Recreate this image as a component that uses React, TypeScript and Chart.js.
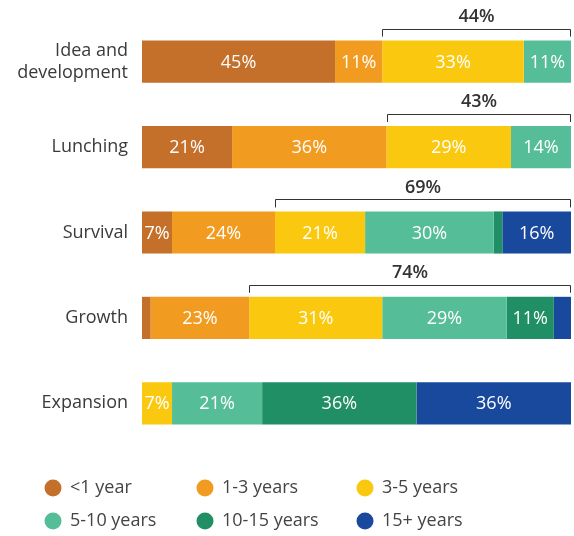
import React, { useEffect, useRef } from "react";
import { Chart, registerables } from "chart.js";

Chart.register(...registerables);

const categories: (string | string[])[] = [
  ["Idea and", "development"],
  "Lunching",
  "Survival",
  "Growth",
  "Expansion",
];
const seriesLabels = ["<1 year", "1-3 years", "3-5 years", "5-10 years", "10-15 years", "15+ years"];
const seriesColors = ["#C46F2A", "#F29B21", "#FAC90F", "#55BE98", "#208F66", "#19499C"];

const lessThan1 = [45, 21, 7, 2, 0];
const y1to3 = [11, 36, 24, 23, 0];
const y3to5 = [33, 29, 21, 31, 7];
const y5to10 = [11, 14, 30, 29, 21];
const y10to15 = [0, 0, 2, 11, 36];
const y15plus = [0, 0, 16, 4, 36];

const bracketLabels = ["44%", "43%", "69%", "74%", ""];
const bracketStartSeries = [2, 2, 2, 2, -1];

const FONT = "'Open Sans', sans-serif";

export default function App() {
  const ref = useRef<HTMLCanvasElement | null>(null);

  useEffect(() => {
    if (!ref.current) return;
    const series = [lessThan1, y1to3, y3to5, y5to10, y10to15, y15plus];

    const labelsPlugin = {
      id: "segLabels",
      afterDatasetsDraw(chart: any) {
        const ctx = chart.ctx;
        ctx.save();
        ctx.font = `18px ${FONT}`;
        ctx.fillStyle = "#ffffff";
        ctx.textAlign = "center";
        ctx.textBaseline = "middle";
        chart.data.datasets.forEach((ds: any, di: number) => {
          const meta = chart.getDatasetMeta(di);
          meta.data.forEach((bar: any, i: number) => {
            const v = ds.data[i];
            if (v >= 5) {
              const cx = (bar.x + bar.base) / 2;
              ctx.fillText(v + "%", cx, bar.y + 1);
            }
          });
        });
        // brackets
        const xs = chart.scales.x;
        ctx.strokeStyle = "#333333";
        ctx.lineWidth = 1;
        ctx.fillStyle = "#333333";
        ctx.font = `600 18px ${FONT}`;
        bracketStartSeries.forEach((s, i) => {
          if (s < 0) return;
          let startVal = 0;
          for (let k = 0; k < s; k++) startVal += series[k][i];
          const bar = chart.getDatasetMeta(0).data[i] as any;
          const top = bar.y - bar.height / 2;
          const x0 = Math.round(xs.getPixelForValue(startVal)) + 0.5;
          const x1 = Math.round(xs.getPixelForValue(100)) - 0.5;
          const ly = Math.round(top - 12) + 0.5;
          ctx.beginPath();
          ctx.moveTo(x0, top - 4);
          ctx.lineTo(x0, ly);
          ctx.lineTo(x1, ly);
          ctx.lineTo(x1, top - 4);
          ctx.stroke();
          ctx.fillText(bracketLabels[i], (x0 + x1) / 2, top - 24);
        });
        ctx.restore();
      },
    };

    const legendPlugin = {
      id: "gridLegend",
      afterDraw(chart: any) {
        const ctx = chart.ctx;
        const colX = [53, 205, 365];
        const rowY = [488, 521];
        ctx.save();
        ctx.font = `18px ${FONT}`;
        ctx.textBaseline = "middle";
        ctx.textAlign = "left";
        chart.data.datasets.forEach((ds: any, i: number) => {
          const x = colX[i % 3];
          const y = rowY[Math.floor(i / 3)];
          ctx.fillStyle = ds.backgroundColor;
          ctx.beginPath();
          ctx.arc(x, y, 8.5, 0, Math.PI * 2);
          ctx.fill();
          ctx.fillStyle = "#444444";
          ctx.fillText(ds.label, x + 17, y);
        });
        ctx.restore();
      },
    };

    const chart = new Chart(ref.current, {
      type: "bar",
      data: {
        labels: categories,
        datasets: series.map((d, i) => ({
          label: seriesLabels[i],
          data: d,
          backgroundColor: seriesColors[i],
          borderWidth: 0,
          categoryPercentage: 1,
          barPercentage: 0.494,
        })),
      },
      options: {
        indexAxis: "y",
        animation: false,
        responsive: false,
        maintainAspectRatio: false,
        layout: { padding: { top: 19, bottom: 90, left: 0, right: 3 } },
        plugins: {
          legend: { display: false },
          tooltip: { enabled: false },
        },
        scales: {
          x: {
            stacked: true,
            min: 0,
            max: 100,
            display: false,
          },
          y: {
            stacked: true,
            grid: { display: false, drawTicks: false },
            border: { display: false },
            ticks: {
              color: "#3a3a3a",
              font: { family: FONT, size: 18, lineHeight: 1.2 },
              padding: 14,
            },
            afterFit: (scale: any) => {
              scale.width = 142;
              scale.paddingTop = 0;
              scale.paddingBottom = 0;
            },
          },
        },
      },
      plugins: [labelsPlugin, legendPlugin],
    } as any);
    return () => chart.destroy();
  }, []);

  return (
    <div style={{ position: "fixed", left: 0, top: 0, width: 574, height: 536, background: "#fff" }}>
      <canvas ref={ref} width={574} height={536} style={{ width: 574, height: 536 }} />
    </div>
  );
}
